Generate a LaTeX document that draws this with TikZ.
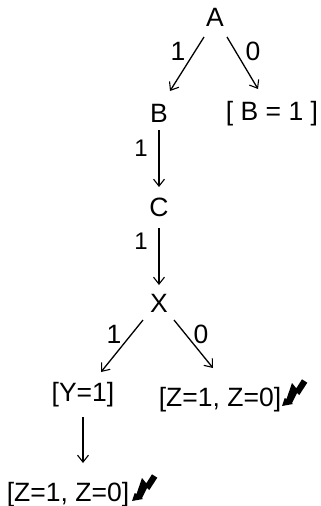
\documentclass[tikz,border=0pt]{standalone}
\usepackage{fontspec}
\setmainfont{Liberation Sans}
\usetikzlibrary{arrows.meta}
\tikzset{
  x=1pt,y=-1pt,
  lab/.style={inner sep=0pt,anchor=base,font=\fontsize{26.5}{28}\selectfont},
  small/.style={inner sep=0pt,anchor=base,font=\fontsize{24}{26}\selectfont},
  conn/.style={draw=black,line width=1.3pt,-{Straight Barb[length=7pt,width=11pt,line width=1.1pt]}},
  bolt/.style={fill=black,draw=none}
}
\newcommand{\boltpath}{(0,0) -- (2.7,-8) -- (4.5,-7) -- (10,-23) -- (14.3,-17.7) -- (20,-26.7) -- (25.3,-23.3) -- (17.3,-11) -- (15,-13) -- (10,-3) -- (11,-2) -- cycle}
\begin{document}
\begin{tikzpicture}
\useasboundingbox (0,0) rectangle (321,506);
\node[lab] (A) at (215,27) {A};
\node[lab] (B) at (159,122.5) {B};
\node[lab] (BB) at (272,120) {[ B = 1 ]};
\node[lab] (C) at (159,216) {C};
\node[lab] (X) at (159,312) {X};
\node[lab] (Y) at (83,401) {[Y=1]};
\node[lab] (Z1) at (220,406) {[Z=1, Z=0]};
\node[lab] (Z2) at (68,501) {[Z=1, Z=0]};
\node[lab] (l1) at (178,60) {1};
\node[lab] (l2) at (253,60) {0};
\node[small] (l3) at (141,156) {1};
\node[small] (l4) at (141,249) {1};
\node[lab] (l5) at (114,343) {1};
\node[lab] (l6) at (201,343) {0};
\draw[conn] ([shift={(-11,10)}]A.base) -- ([shift={(11,-31.5)}]B.base);
\draw[conn] ([shift={(12,10)}]A.base) -- ([shift={(-14,-31)}]BB.base);
\draw[conn] ([shift={(0,7.5)}]B.base) -- ([shift={(0,-29)}]C.base);
\draw[conn] ([shift={(0,12)}]C.base) -- ([shift={(0,-27)}]X.base);
\draw[conn] ([shift={(-16,8)}]X.base) -- ([shift={(18,-29)}]Y.base);
\draw[conn] ([shift={(15,8)}]X.base) -- ([shift={(-7,-38)}]Z1.base);
\draw[conn] ([shift={(0,16)}]Y.base) -- ([shift={(15,-38)}]Z2.base);
\fill[bolt,shift={(282,406)}] \boltpath;
\fill[bolt,shift={(132,501)}] \boltpath;
\end{tikzpicture}
\end{document}
